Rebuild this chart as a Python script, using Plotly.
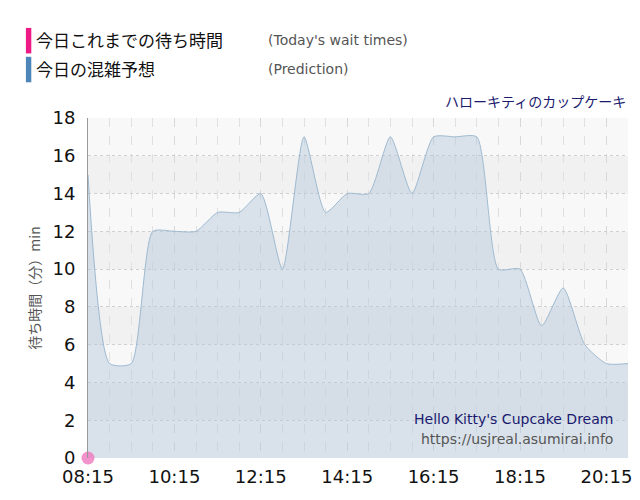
import plotly.graph_objects as go

times = ["08:15","08:45","09:15","09:45","10:15","10:45","11:15","11:45","12:15","12:45",
         "13:15","13:45","14:15","14:45","15:15","15:45","16:15","16:45","17:15","17:45",
         "18:15","18:45","19:15","19:45","20:15","20:45"]
prediction = [15,5,5,12,12,12,13,13,14,10,17,13,14,14,17,14,17,17,17,10,10,7,9,6,5,5]
today_times = ["08:15"]
today_waits = [0]
tick_labels = ["08:15","10:15","12:15","14:15","16:15","18:15","20:15"]

def mins(t):
    h, m = t.split(":")
    return int(h) * 60 + int(m)

x = [mins(t) for t in times]
fig = go.Figure()
fig.add_trace(go.Scatter(x=x, y=prediction, mode="lines", line=dict(color="rgba(150,180,205,0.9)", width=1, shape="spline", smoothing=0.6),
                         fill="tozeroy", fillcolor="rgba(180,200,218,0.45)", hoverinfo="skip"))
fig.add_trace(go.Scatter(x=[mins(t) for t in today_times], y=today_waits, mode="markers",
                         marker=dict(color="rgba(240,120,190,0.8)", size=13), cliponaxis=False))

shapes = []
for y0 in range(0, 18, 2):
    shapes.append(dict(type="rect", xref="paper", yref="y", x0=0, x1=1, y0=y0, y1=y0 + 2,
                       fillcolor="#f8f8f8" if (y0 // 2) % 2 == 0 else "#f1f1f1", line_width=0, layer="below"))
shapes.append(dict(type="rect", xref="paper", yref="paper", x0=-0.115, x1=-0.105, y0=1.19, y1=1.265, fillcolor="#ee1b87", line_width=0))
shapes.append(dict(type="rect", xref="paper", yref="paper", x0=-0.115, x1=-0.105, y0=1.105, y1=1.18, fillcolor="#4f86b9", line_width=0))

ann = [
    dict(text="今日これまでの待ち時間", x=-0.1, y=1.23, xref="paper", yref="paper", xanchor="left", yanchor="middle", showarrow=False, font=dict(size=17, color="#111")),
    dict(text="(Today's wait times)", x=0.33, y=1.23, xref="paper", yref="paper", xanchor="left", yanchor="middle", showarrow=False, font=dict(size=14, color="#555", family="DejaVu Sans")),
    dict(text="今日の混雑予想", x=-0.1, y=1.145, xref="paper", yref="paper", xanchor="left", yanchor="middle", showarrow=False, font=dict(size=17, color="#111")),
    dict(text="(Prediction)", x=0.33, y=1.145, xref="paper", yref="paper", xanchor="left", yanchor="middle", showarrow=False, font=dict(size=14, color="#555", family="DejaVu Sans")),
    dict(text="ハローキティのカップケーキ", x=1, y=1.015, xref="paper", yref="paper", xanchor="right", yanchor="bottom", showarrow=False, font=dict(size=14, color="#1a1a6e")),
    dict(text="Hello Kitty's Cupcake Dream", x=0.975, y=0.115, xref="paper", yref="paper", xanchor="right", yanchor="middle", showarrow=False, font=dict(size=14, color="#1a1a6e", family="DejaVu Sans")),
    dict(text="https://usjreal.asumirai.info", x=0.975, y=0.055, xref="paper", yref="paper", xanchor="right", yanchor="middle", showarrow=False, font=dict(size=14, color="#555", family="DejaVu Sans")),
]

fig.update_layout(
    width=640, height=500, margin=dict(l=80, r=20, t=110, b=50, autoexpand=False),
    plot_bgcolor="white", paper_bgcolor="white", showlegend=False,
    font=dict(family="Noto Sans CJK JP, sans-serif"),
    shapes=shapes, annotations=ann,
    xaxis=dict(range=[mins("08:15"), mins("20:45")], tickvals=[mins(t) for t in tick_labels], ticktext=tick_labels,
               tickfont=dict(size=18, color="#111", family="DejaVu Sans"), showgrid=True, gridcolor="#d8d8d8", griddash="dash", gridwidth=1,
               minor=dict(dtick=30, tick0=mins("08:15"), showgrid=True, gridcolor="#e0e0e0", griddash="dash"),
               zeroline=False, showline=False, ticks="", automargin=False, ticklabelstandoff=6),
    yaxis=dict(range=[0, 18], dtick=2, tickfont=dict(size=18, color="#111", family="DejaVu Sans"), showgrid=True, gridcolor="#d0d0d0", griddash="dot",
               zeroline=False, showline=True, linecolor="#999", linewidth=1, ticks="", automargin=False, ticklabelstandoff=8,
               title=dict(text="待ち時間（分）min", font=dict(size=14, color="#555"), standoff=8)),
)
fig.write_html("out.html")
